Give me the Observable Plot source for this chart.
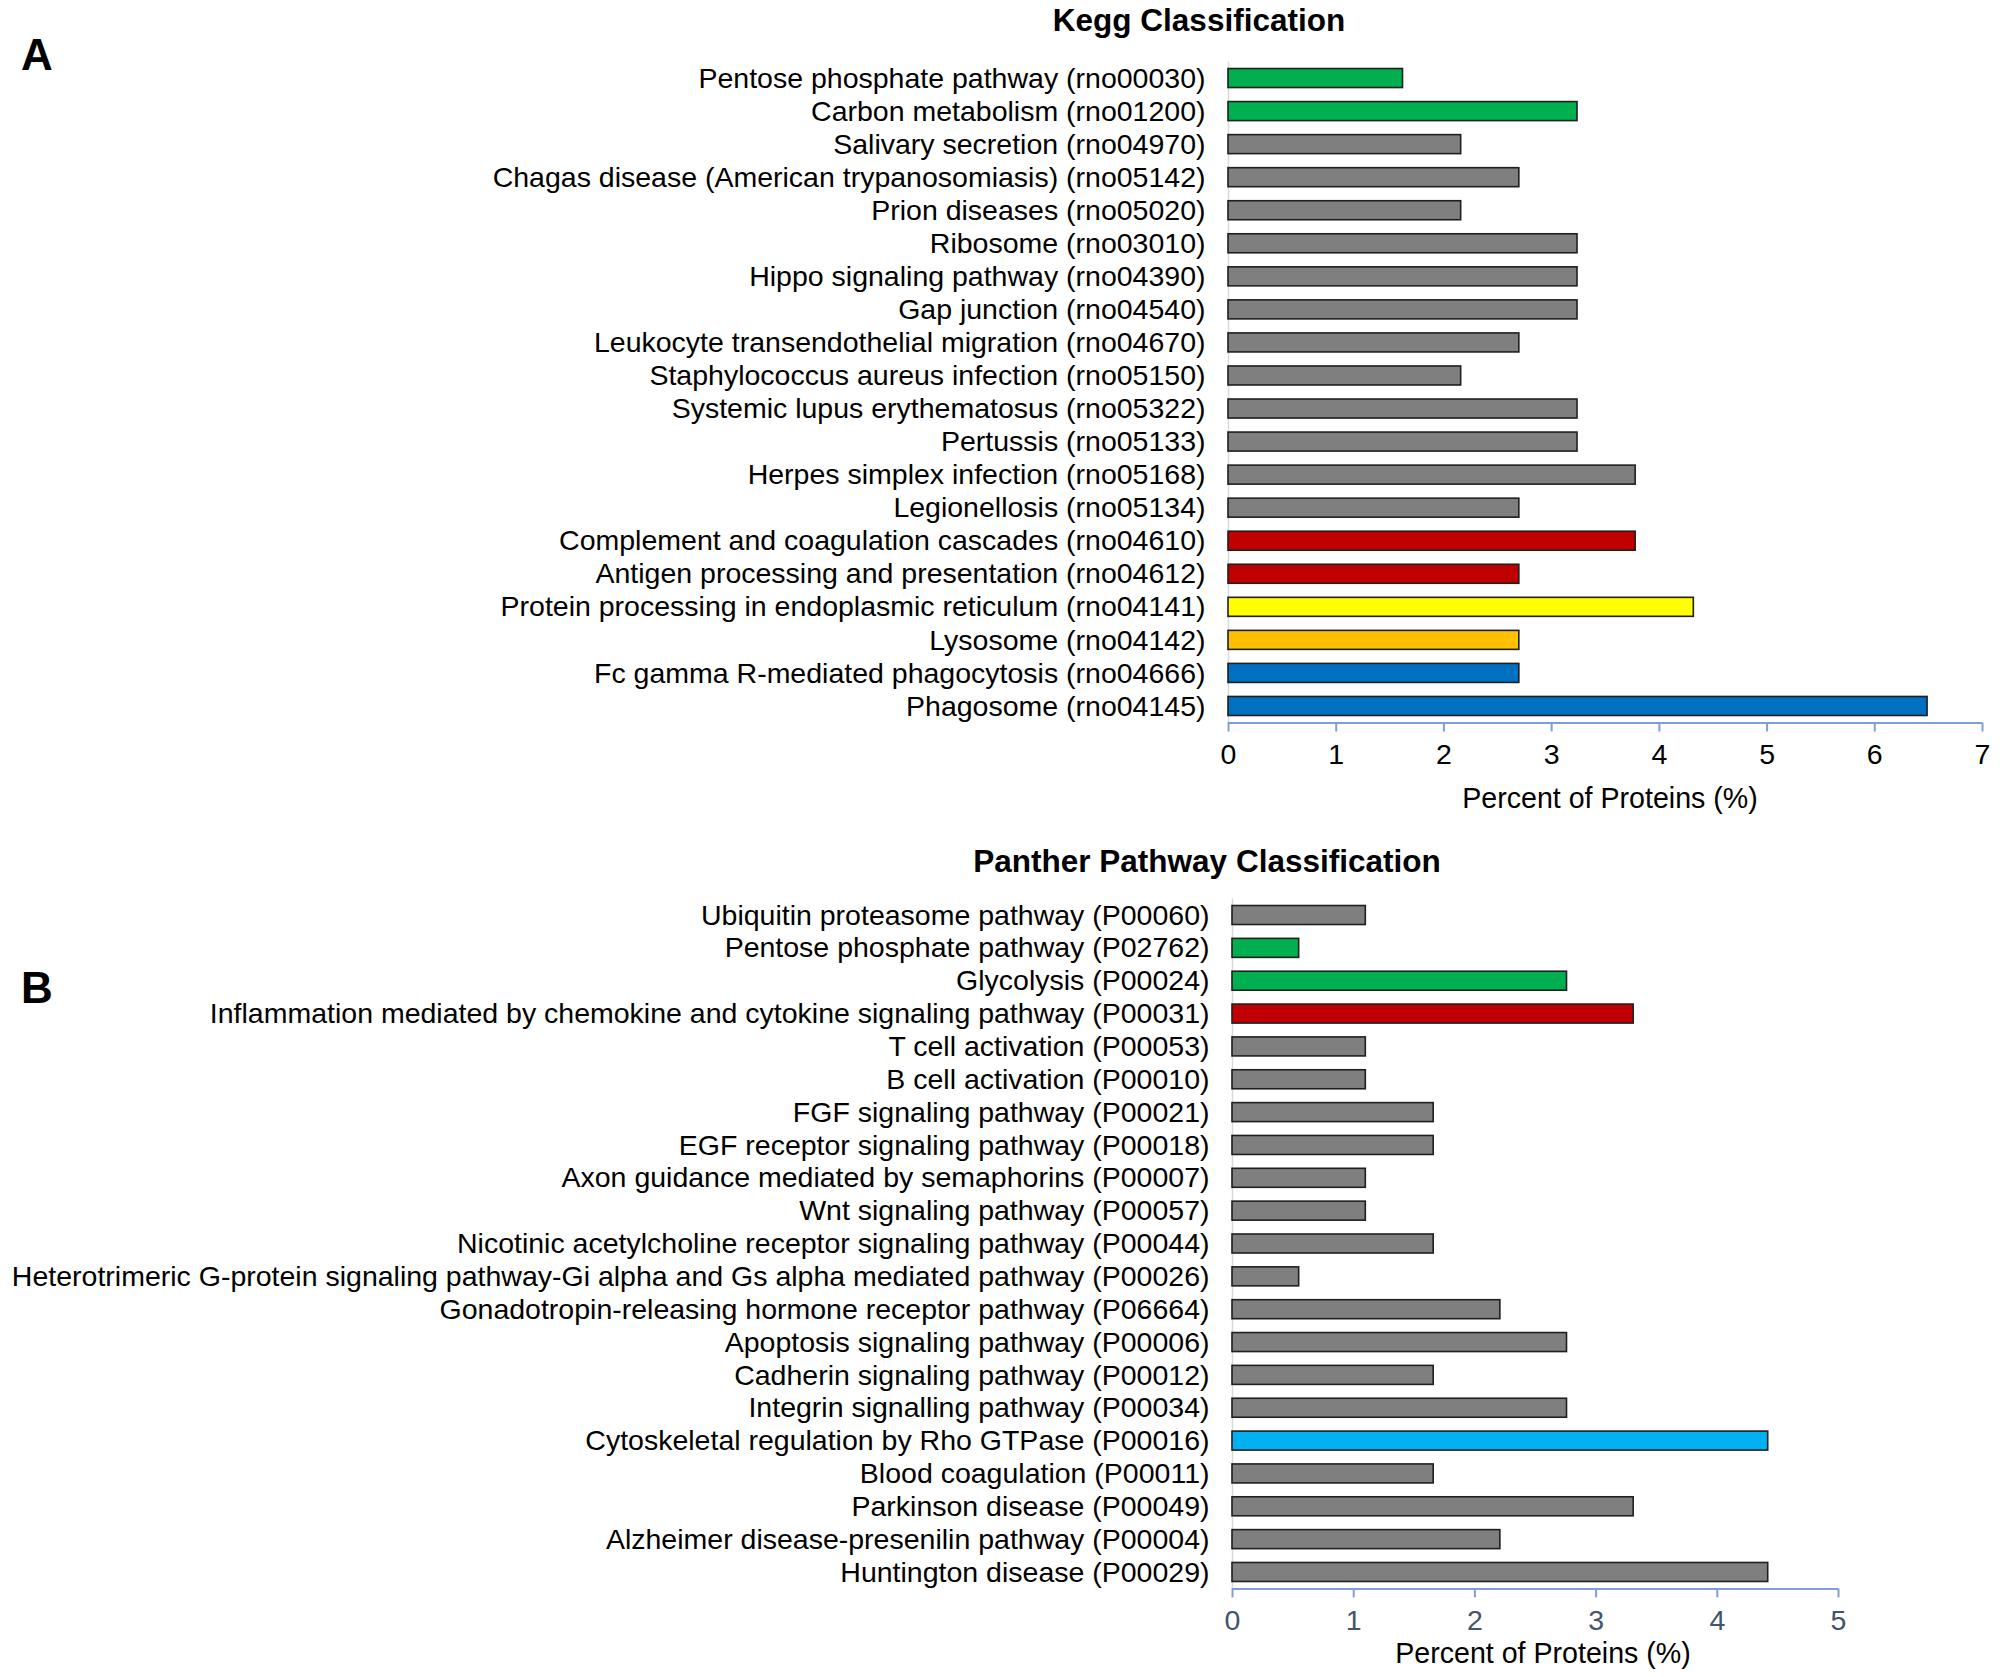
<!DOCTYPE html>
<html><head><meta charset="utf-8">
<script src="https://cdn.jsdelivr.net/npm/d3@7"></script>
<script src="https://cdn.jsdelivr.net/npm/@observablehq/plot@0.6"></script>
<style>
body{margin:0;background:#fff;width:2000px;height:1677px;position:relative;overflow:hidden;font-family:"Liberation Sans",Arial,sans-serif;}
.abs{position:absolute;white-space:nowrap;}
.title{font-weight:bold;font-size:31.5px;color:#000;transform:translate(-50%,-50%);}
.panel{font-weight:bold;font-size:44px;color:#000;}
.xlab{font-size:28.6px;color:#000;transform:translate(-50%,-50%);}
</style></head><body>
<div id="a" class="abs" style="left:0;top:0"></div>
<div id="b" class="abs" style="left:0;top:830px"></div>
<div class="abs title" style="left:1199px;top:20px">Kegg Classification</div>
<div class="abs title" style="left:1207px;top:861px">Panther Pathway Classification</div>
<div class="abs panel" style="left:21px;top:30px">A</div>
<div class="abs panel" style="left:21px;top:963px">B</div>
<div class="abs xlab" style="left:1610px;top:798px">Percent of Proteins (%)</div>
<div class="abs xlab" style="left:1543px;top:1653px">Percent of Proteins (%)</div>
<script>
const keggNames = [
 "Pentose phosphate pathway (rno00030)",
 "Carbon metabolism (rno01200)",
 "Salivary secretion (rno04970)",
 "Chagas disease (American trypanosomiasis) (rno05142)",
 "Prion diseases (rno05020)",
 "Ribosome (rno03010)",
 "Hippo signaling pathway (rno04390)",
 "Gap junction (rno04540)",
 "Leukocyte transendothelial migration (rno04670)",
 "Staphylococcus aureus infection (rno05150)",
 "Systemic lupus erythematosus (rno05322)",
 "Pertussis (rno05133)",
 "Herpes simplex infection (rno05168)",
 "Legionellosis (rno05134)",
 "Complement and coagulation cascades (rno04610)",
 "Antigen processing and presentation (rno04612)",
 "Protein processing in endoplasmic reticulum (rno04141)",
 "Lysosome (rno04142)",
 "Fc gamma R-mediated phagocytosis (rno04666)",
 "Phagosome (rno04145)"
];
const keggValues = [1.62,3.24,2.16,2.70,2.16,3.24,3.24,3.24,2.70,2.16,3.24,3.24,3.78,2.70,3.78,2.70,4.32,2.70,2.70,6.49];
const keggGroups = ["metabolism","metabolism","other","other","other","other","other","other","other","other","other","other","other","other","immune","immune","er","lysosome","phagocytosis","phagocytosis"];
const keggTicks = [0,1,2,3,4,5,6,7];

const pantherNames = [
 "Ubiquitin proteasome pathway (P00060)",
 "Pentose phosphate pathway (P02762)",
 "Glycolysis (P00024)",
 "Inflammation mediated by chemokine and cytokine signaling pathway (P00031)",
 "T cell activation (P00053)",
 "B cell activation (P00010)",
 "FGF signaling pathway (P00021)",
 "EGF receptor signaling pathway (P00018)",
 "Axon guidance mediated by semaphorins (P00007)",
 "Wnt signaling pathway (P00057)",
 "Nicotinic acetylcholine receptor signaling pathway (P00044)",
 "Heterotrimeric G-protein signaling pathway-Gi alpha and Gs alpha mediated pathway (P00026)",
 "Gonadotropin-releasing hormone receptor pathway (P06664)",
 "Apoptosis signaling pathway (P00006)",
 "Cadherin signaling pathway (P00012)",
 "Integrin signalling pathway (P00034)",
 "Cytoskeletal regulation by Rho GTPase (P00016)",
 "Blood coagulation (P00011)",
 "Parkinson disease (P00049)",
 "Alzheimer disease-presenilin pathway (P00004)",
 "Huntington disease (P00029)"
];
const pantherValues = [1.10,0.55,2.76,3.31,1.10,1.10,1.66,1.66,1.10,1.10,1.66,0.55,2.21,2.76,1.66,2.76,4.42,1.66,3.31,2.21,4.42];
const pantherGroups = ["other","metabolism","metabolism","immune","other","other","other","other","other","other","other","other","other","other","other","other","cytoskeleton","other","other","other","other"];
const pantherTicks = [0,1,2,3,4,5];

const groupDomain = ["metabolism","other","immune","er","lysosome","phagocytosis","cytoskeleton"];
const groupColors = ["#00B050","#7F7F7F","#C00000","#FFFF00","#FFC000","#0070C0","#00B0F0"];
const axisColor = "#7F9ED8";
const font = '"Liberation Sans", Arial, sans-serif';

function chart({names, values, groups, ticks, xmax, width, height, mL, mR, mT, mB, tickFill}) {
  const data = names.map((name, i) => ({name, value: values[i], group: groups[i]}));
  const step = (height - mT - mB) / names.length;
  const barH = 19;
  return Plot.plot({
    width, height,
    marginLeft: mL, marginRight: mR, marginTop: mT, marginBottom: mB,
    style: {fontFamily: font, background: "white", overflow: "visible"},
    x: {domain: [0, xmax]},
    y: {domain: names, padding: 0, round: false},
    color: {domain: groupDomain, range: groupColors},
    marks: [
      Plot.ruleX([0], {stroke: "#d9d9d9", strokeWidth: 1.5}),
      Plot.barX(data, {x: "value", y: "name", fill: "group", stroke: "#1f1f1f", strokeWidth: 1.6, insetTop: (step-barH)/2, insetBottom: (step-barH)/2}),
      Plot.ruleY([names[names.length-1]], {x1: 0, x2: xmax, dy: step/2, stroke: axisColor, strokeWidth: 2}),
      Plot.axisX({ticks, tickSize: 9, tickPadding: 12, stroke: axisColor, strokeWidth: 2, fill: tickFill, fontSize: 28.5, label: null, tickFormat: d => String(d)}),
      Plot.axisY({tickSize: 0, tickPadding: 23, fontSize: 28.5, fill: "black", label: null})
    ]
  });
}

document.getElementById("a").append(chart({
  names: keggNames, values: keggValues, groups: keggGroups, ticks: keggTicks, xmax: 7,
  width: 2000, height: 840, mL: 1228, mR: 18, mT: 61.5, mB: 840 - 722.5, tickFill: "#000"
}));
document.getElementById("b").append(chart({
  names: pantherNames, values: pantherValues, groups: pantherGroups, ticks: pantherTicks, xmax: 5,
  width: 2000, height: 847, mL: 1232, mR: 162, mT: 68.6, mB: 847 - 758.4, tickFill: "#44546A"
}));
</script>
</body></html>
